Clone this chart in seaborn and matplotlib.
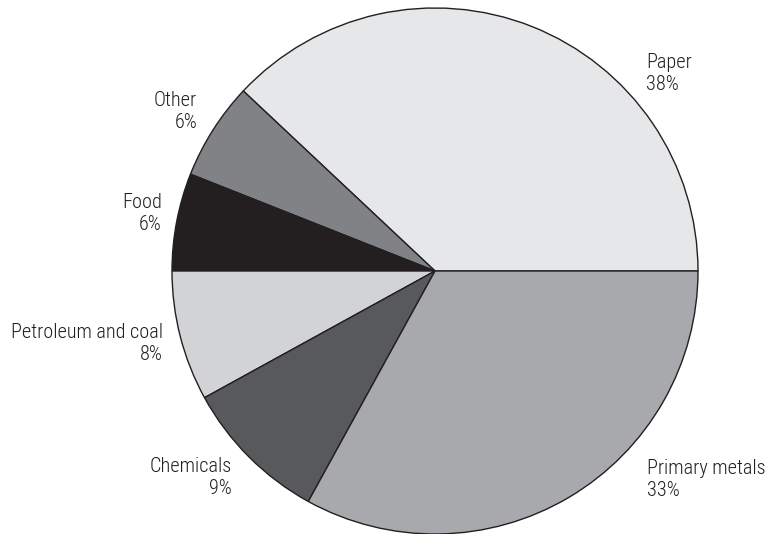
import matplotlib
matplotlib.use("Agg")
import matplotlib.pyplot as plt
import seaborn as sns

sns.set_theme(style="white")
plt.rcParams["font.family"] = ["Roboto Condensed", "DejaVu Sans"]

# Industry shares of energy use (percent)
categories = ["Paper", "Other", "Food", "Petroleum and coal", "Chemicals", "Primary metals"]
shares = [38, 6, 6, 8, 9, 33]
colors = ["#e6e7e8", "#808285", "#231f20", "#d1d3d4", "#58595b", "#a7a9ac"]

# label anchor (pixel x, pixel y from top) and horizontal alignment
label_pos = [(646, 74, "left"), (197, 112, "right"), (162, 213, "right"),
             (163, 343, "right"), (232, 478, "right"), (647, 479, "left")]

W, H = 772, 534
cx, cy, r = 435, 271, 263

fig = plt.figure(figsize=(W / 100, H / 100), dpi=100)
ax = fig.add_axes([0, 0, 1, 1])

ax.pie(shares, colors=colors, startangle=0, counterclock=True,
       center=(cx, H - cy), radius=r, frame=True,
       wedgeprops=dict(edgecolor="#231f20", linewidth=1.0))
ax.set_xlim(0, W)
ax.set_ylim(0, H)
ax.set_aspect("equal")
ax.axis("off")

for name, val, (x, y, ha) in zip(categories, shares, label_pos):
    ax.text(x, H - y, f"{name}\n{val}%", ha=ha, va="center", multialignment=ha,
            fontsize=14.6, fontweight="light", color="#231f20", linespacing=1.2)

fig.savefig("out.png", dpi=100, facecolor="white")
